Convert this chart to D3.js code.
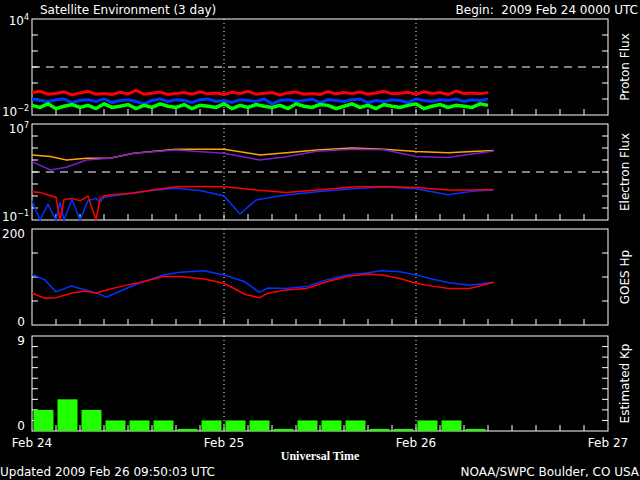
<!DOCTYPE html>
<html><head><meta charset="utf-8">
<script src="https://cdn.jsdelivr.net/npm/d3@7"></script>
<style>
body{margin:0;background:#000}
text{font-family:"DejaVu Sans",sans-serif;fill:#fff;font-size:12px}
</style></head><body>
<svg id="c" width="640" height="480"></svg>
<script>
// hours since 2009 Feb 24 0000 UTC
var hourly = d3.range(0, 58);
var protonRed = [.25,.3,.2,.22,.28,.18,.24,.3,.2,.22,.19,.26,.21,.35,.2,.23,.27,.19,.22,.25,.2,.28,.21,.24,.19,.26,.22,.3,.2,.23,.25,.18,.24,.27,.2,.22,.19,.29,.21,.25,.22,.27,.2,.24,.3,.21,.23,.26,.2,.28,.22,.25,.19,.31,.22,.24,.21,.25];
var protonBlue = [.1,.08,.07,.09,.1,.06,.08,.09,.07,.1,.06,.08,.09,.07,.05,.08,.1,.07,.09,.08,.06,.09,.1,.07,.08,.06,.09,.08,.07,.1,.05,.08,.09,.07,.08,.1,.06,.09,.08,.07,.09,.1,.06,.08,.07,.09,.08,.06,.1,.08,.07,.09,.08,.1,.07,.09,.08,.1];
var protonGreen = [.04,.03,.05,.025,.035,.045,.03,.04,.025,.05,.03,.035,.045,.025,.04,.03,.05,.035,.03,.045,.025,.04,.035,.03,.05,.025,.04,.03,.045,.035,.03,.04,.025,.05,.035,.03,.045,.04,.025,.035,.05,.03,.04,.025,.045,.035,.03,.04,.05,.025,.035,.045,.03,.04,.035,.03,.05,.04];

var eHours = [0,2.3,4.3,6.8,9.7,12.7,18,24,28.5,31.8,35.6,40,44,48,52,55,57.7];
var eOrange = [4.42,4.3,4.0,4.14,4.14,4.56,4.89,4.89,4.42,4.61,4.83,5.0,4.9,4.7,4.6,4.7,4.8]; // log10
var ePurple = [3.86,3.17,3.39,4.0,4.14,4.56,4.83,4.56,4.0,4.28,4.72,4.9,4.85,4.3,4.2,4.5,4.75];
var elHours = [0,1,2,3,3.5,4,5,6,7,8,8.5,9,10,12.7,15,18,21,24,26,28,30,31.8,35.6,40,44,48,52,55,57.7];
var eRed = [1.36,1.3,1.08,0.9,-1,0.7,0.8,0.6,1.0,-1,0.8,1.0,1.1,1.25,1.5,1.78,1.8,1.78,1.65,1.5,1.4,1.3,1.5,1.75,1.8,1.7,1.5,1.5,1.55];
var eBlue = [0.6,-1,0.3,-1,0.5,-1,0.7,-1,0.6,0.8,0.5,0.9,1.0,1.25,1.45,1.64,1.45,1.0,-0.5,0.67,0.9,1.08,1.36,1.6,1.75,1.6,1.1,1.4,1.5];

var hpHours = [0,1.6,3,4.9,6.7,8,9.3,11.3,13.9,16.4,18.5,21.5,24,26.6,28.4,29.5,31.7,34.3,36.8,39.4,42,43.7,46,48,50,52.1,54.7,57.7];
var hpBlue = [106,94,69,81,73,67,58,73,90,104,110,113,104,90,68,77,76,80,94,104,109,113,111,104,96,88,83,89];
var hpRed = [66,56,57,66,71,66,73,81,90,101,101,96,87,64,57,66,73,76,90,101,106,104,97,87,81,76,76,89];

var kpStart = [0,3,6,9,12,15,18,21,24,27,30,33,36,39,42,45,48,51,54];
var kpValues = [2,3,2,1,1,1,0.2,1,1,1,0.2,1,1,1,0.2,0.2,1,1,0.2];

var dayLabels = ["Feb 24","Feb 25","Feb 26","Feb 27"];

var svg = d3.select("#c");
var x = d3.scaleLinear().domain([0,72]).range([32,608]);

var panels = [
	{top:19, bot:115, label:"Proton Flux"},
	{top:124, bot:220, label:"Electron Flux"},
	{top:229, bot:325, label:"GOES Hp"},
	{top:336, bot:431, label:"Estimated Kp"}
];

function frame(p, yTicks, y){
	var g = svg.append("g");
	g.append("rect").attr("x",x(0)).attr("y",p.top).attr("width",x(72)-x(0)).attr("height",p.bot-p.top)
		.attr("fill","none").attr("stroke","#fff").attr("stroke-width",1);
	d3.range(3,72,3).forEach(function(h){
		g.append("line").attr("x1",x(h)).attr("x2",x(h)).attr("y1",p.bot).attr("y2",p.bot-6).attr("stroke","#fff");
	});
	yTicks.forEach(function(v){
		[[x(0),x(0)+6],[x(72),x(72)-6]].forEach(function(s){
			g.append("line").attr("x1",s[0]).attr("x2",s[1]).attr("y1",y(v)).attr("y2",y(v)).attr("stroke","#fff");
		});
	});
	[24,48].forEach(function(h){
		g.append("line").attr("x1",x(h)).attr("x2",x(h)).attr("y1",p.top).attr("y2",p.bot)
			.attr("stroke","#fff").attr("stroke-dasharray","1,3");
	});
	g.append("text").attr("transform","translate(629,"+((p.top+p.bot)/2)+") rotate(-90)")
		.attr("text-anchor","middle").attr("font-size","13px").text(p.label);
	return g;
}

function powLabel(g, yy, base, exp){
	var t = g.append("text").attr("x",29).attr("y",yy).attr("text-anchor","end").attr("font-size","12px");
	t.append("tspan").text(base);
	t.append("tspan").attr("dy",-5).attr("font-size","8px").text(exp);
}
function plainLabel(g, yy, s){
	g.append("text").attr("x",25).attr("y",yy).attr("text-anchor","end").attr("font-size","12px").text(s);
}
function line(g, xs, ys, y, color, w){
	var pts = xs.map(function(h,i){return [x(h), y(ys[i])];});
	g.append("path").attr("d", d3.line()(pts))
		.attr("fill","none").attr("stroke",color).attr("stroke-width",w||1.5);
}
function dashed(g, yy){
	g.append("line").attr("x1",x(0)).attr("x2",x(72)).attr("y1",yy).attr("y2",yy)
		.attr("stroke","#fff").attr("stroke-dasharray","8,6");
}

// proton
var p = panels[0];
var y1 = d3.scaleLog().domain([1e-2,1e4]).range([p.bot,p.top]);
var g1 = frame(p, [1e-1,1,1e1,1e2,1e3], y1);
dashed(g1, y1(10));
line(g1, hourly, protonRed, y1, "#ff0000", 3);
line(g1, hourly, protonBlue, y1, "#0033ff", 3);
line(g1, hourly, protonGreen, y1, "#00ff00", 3.5);
powLabel(g1, p.top+6, "10", "4");
powLabel(g1, p.bot+1, "10", "−2");

// electron (log10 values)
p = panels[1];
var y2 = d3.scaleLinear().domain([-1,7]).range([p.bot,p.top]).clamp(true);
var g2 = frame(p, [0,1,2,3,4,5,6], y2);
dashed(g2, y2(3));
line(g2, eHours, eOrange, y2, "#ffa500");
line(g2, eHours, ePurple, y2, "#7a1fd0");
line(g2, elHours, eBlue, y2, "#0033ff");
line(g2, elHours, eRed, y2, "#ff0000");
powLabel(g2, p.top+9, "10", "7");
powLabel(g2, p.bot+1, "10", "−1");

// Hp
p = panels[2];
var y3 = d3.scaleLinear().domain([0,200]).range([p.bot,p.top]);
var g3 = frame(p, [50,100,150], y3);
line(g3, hpHours, hpBlue, y3, "#0033ff");
line(g3, hpHours, hpRed, y3, "#ff0000");
plainLabel(g3, p.top+9, "200");
plainLabel(g3, p.bot+1, "0");

// Kp
p = panels[3];
var y4 = d3.scaleLinear().domain([0,9]).range([p.bot,p.top]);
var g4 = frame(p, [1,2,3,4,5,6,7,8], y4);
g4.selectAll("rect.kp").data(kpValues).enter().append("rect")
	.attr("x",function(d,i){return x(kpStart[i])+1.5;})
	.attr("width",x(3)-x(0)-4)
	.attr("y",function(d){return y4(d);})
	.attr("height",function(d){return y4(0)-y4(d);})
	.attr("fill","#22ff00");
plainLabel(g4, p.top+9, "9");
plainLabel(g4, p.bot-1, "0");

// text
dayLabels.forEach(function(s,i){
	svg.append("text").attr("x",x(i*24)).attr("y",447).attr("text-anchor","middle").attr("font-size","12px").text(s);
});
svg.append("text").attr("x",320).attr("y",460).attr("text-anchor","middle")
	.style("font-family","'Liberation Serif',serif").attr("font-weight","bold").attr("font-size","13px").text("Universal Time");
svg.append("text").attr("x",40).attr("y",14).attr("font-size","13px").text("Satellite Environment (3 day)");
svg.append("text").attr("x",638).attr("y",14).attr("text-anchor","end").attr("font-size","13px").attr("xml:space","preserve").text("Begin:  2009 Feb 24 0000 UTC");
svg.append("text").attr("x",0).attr("y",476).attr("font-size","13px").text("Updated 2009 Feb 26 09:50:03 UTC");
svg.append("text").attr("x",639).attr("y",476).attr("text-anchor","end").attr("font-size","13px").text("NOAA/SWPC Boulder, CO USA");
</script></body></html>
